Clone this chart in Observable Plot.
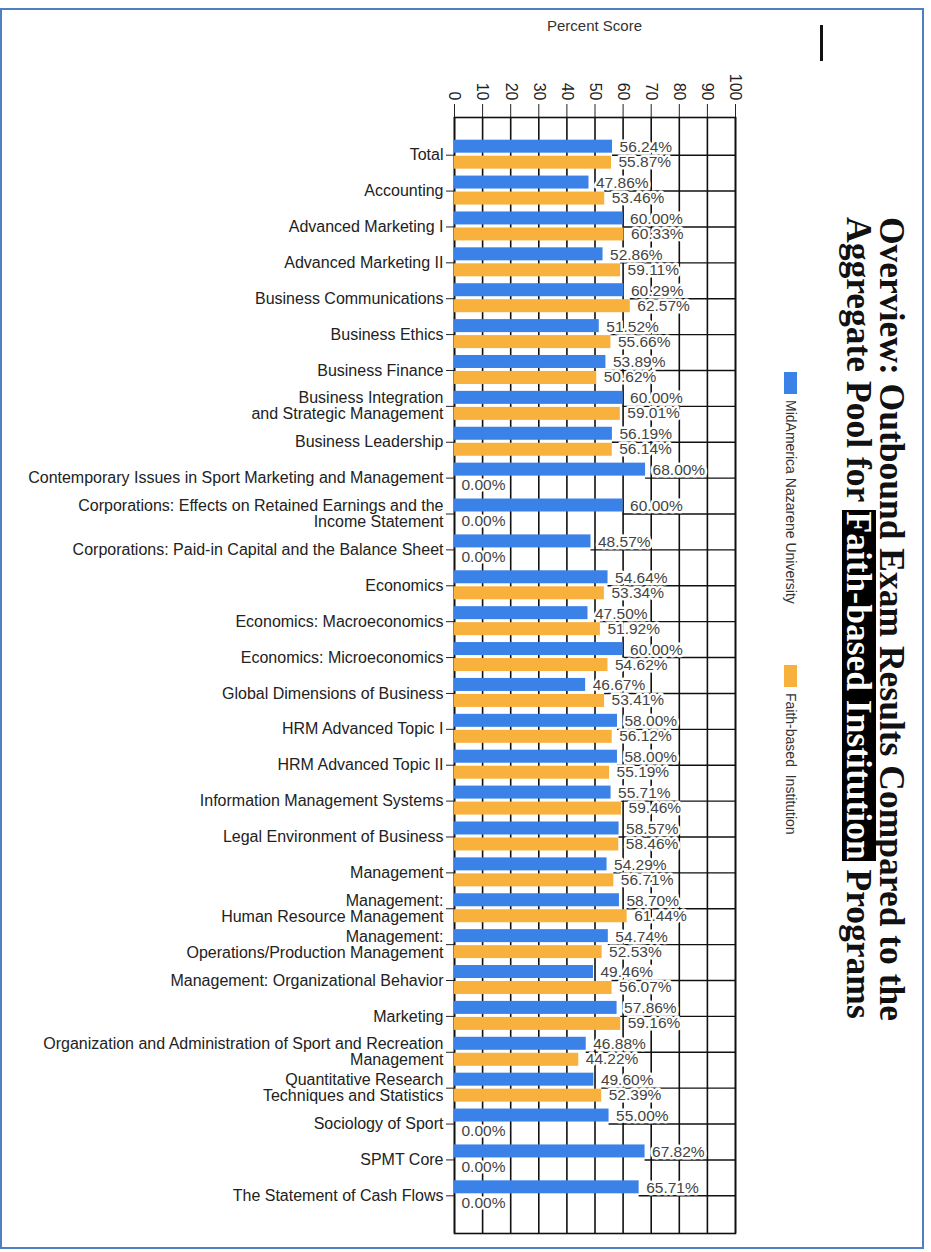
<!DOCTYPE html>
<html>
<head>
<meta charset="utf-8">
<script src="https://cdn.jsdelivr.net/npm/d3@7"></script>
<script src="https://cdn.jsdelivr.net/npm/@observablehq/plot@0.6"></script>
<style>
  html, body { margin: 0; padding: 0; background: #fff; }
  body { width: 931px; height: 1252px; position: relative; overflow: hidden; font-family: "Liberation Sans", Arial, sans-serif; }
  #frame { position: absolute; left: 0; top: 8px; width: 924px; height: 1241px; border: 2px solid #4f7fc2; box-sizing: border-box; }
  #chart { position: absolute; left: 0; top: 0; }
  #xlabel { position: absolute; left: 454px; width: 281px; top: 17px; text-align: center; font-size: 15px; color: #333; }
  #cursor { position: absolute; left: 820px; top: 25px; width: 3px; height: 36px; background: #111; }
  #title { position: absolute; left: 908px; top: 217px; transform-origin: 0 0; transform: rotate(90deg);
           font-family: "Liberation Serif", "Times New Roman", serif; font-weight: bold; font-size: 35.5px; line-height: 32px; white-space: nowrap; color: #111; }
  #title .hl { display: inline-block; background: #000; color: #fff; line-height: 34px; height: 34px; padding: 0 1px; }
  .legend { position: absolute; transform-origin: 0 0; transform: rotate(90deg); white-space: nowrap; font-size: 14px; line-height: 15px; color: #333; display: flex; align-items: center; }
  .legend .sw { display: inline-block; width: 22px; height: 13px; margin-right: 6px; }
</style>
</head>
<body>
<div id="frame"></div>
<div id="chart"></div>
<div id="xlabel"></div>
<div id="cursor"></div>
<div id="title"></div>
<div id="legend"></div>
<script>
const categories = [
  "Total",
  "Accounting",
  "Advanced Marketing I",
  "Advanced Marketing II",
  "Business Communications",
  "Business Ethics",
  "Business Finance",
  "Business Integration\nand Strategic Management",
  "Business Leadership",
  "Contemporary Issues in Sport Marketing and Management",
  "Corporations: Effects on Retained Earnings and the\nIncome Statement",
  "Corporations: Paid-in Capital and the Balance Sheet",
  "Economics",
  "Economics: Macroeconomics",
  "Economics: Microeconomics",
  "Global Dimensions of Business",
  "HRM Advanced Topic I",
  "HRM Advanced Topic II",
  "Information Management Systems",
  "Legal Environment of Business",
  "Management",
  "Management:\nHuman Resource Management",
  "Management:\nOperations/Production Management",
  "Management: Organizational Behavior",
  "Marketing",
  "Organization and Administration of Sport and Recreation\nManagement",
  "Quantitative Research\nTechniques and Statistics",
  "Sociology of Sport",
  "SPMT Core",
  "The Statement of Cash Flows"
];
const mnuValues = [56.24, 47.86, 60.00, 52.86, 60.29, 51.52, 53.89, 60.00, 56.19, 68.00, 60.00, 48.57, 54.64, 47.50, 60.00, 46.67, 58.00, 58.00, 55.71, 58.57, 54.29, 58.70, 54.74, 49.46, 57.86, 46.88, 49.60, 55.00, 67.82, 65.71];
const faithValues = [55.87, 53.46, 60.33, 59.11, 62.57, 55.66, 50.62, 59.01, 56.14, 0.00, 0.00, 0.00, 53.34, 51.92, 54.62, 53.41, 56.12, 55.19, 59.46, 58.46, 56.71, 61.44, 52.53, 56.07, 59.16, 44.22, 52.39, 0.00, 0.00, 0.00];
const xTicks = [0, 10, 20, 30, 40, 50, 60, 70, 80, 90, 100];
const seriesNames = ["MidAmerica Nazarene University", "Faith-based  Institution"];
const seriesColors = ["#3b82e8", "#f8b13c"];
const axisTitle = "Percent Score";
const titleLine1 = "Overview: Outbound Exam Results Compared to the";
const titleLine2Parts = ["Aggregate Pool for ", "Faith-based Institution", " Programs"];

const rows = categories.map((c, i) => ({cat: c, mnu: mnuValues[i], faith: faithValues[i]}));

const W = 760, H = 1240, mt = 117, mb = 7, ml = 454, mr = 25;
const padOuter = 0.55;
const step = (H - mt - mb) / (categories.length + 2 * padOuter);
const half = step / 2;
const fmt = v => v.toFixed(2) + "%";

const chart = Plot.plot({
  width: W, height: H,
  marginTop: mt, marginBottom: mb, marginLeft: ml, marginRight: mr,
  style: {fontFamily: "'Liberation Sans', Arial, sans-serif", fontSize: "16px", color: "#222", background: "transparent", overflow: "visible"},
  x: {domain: [0, 100], axis: "top", ticks: xTicks, tickRotate: 90, tickSize: 14, tickPadding: 3, label: null},
  y: {domain: categories, paddingInner: 0, paddingOuter: padOuter, round: false, tickSize: 8, tickPadding: 3, label: null},
  marks: [
    Plot.ruleX(xTicks, {stroke: "#111", strokeWidth: 1.6}),
    Plot.ruleY(rows, {y: "cat", x1: d => Math.max(d.mnu, d.faith), x2: 100, stroke: "#111", strokeWidth: 1.4}),
    Plot.frame({stroke: "#111", strokeWidth: 1.6}),
    Plot.barX(rows, {y: "cat", x: "mnu", fill: seriesColors[0], insetTop: half - 15, insetBottom: half + 2}),
    Plot.barX(rows, {y: "cat", x: "faith", fill: seriesColors[1], insetTop: half + 1, insetBottom: half - 14}),
    Plot.text(rows, {y: "cat", x: "mnu", text: d => fmt(d.mnu), dx: 7, dy: -8, textAnchor: "start", fontSize: 15.5, fill: "#444", stroke: "white", strokeWidth: 5, paintOrder: "stroke"}),
    Plot.text(rows, {y: "cat", x: "faith", text: d => fmt(d.faith), dx: 7, dy: 7, textAnchor: "start", fontSize: 15.5, fill: "#444", stroke: "white", strokeWidth: 5, paintOrder: "stroke"})
  ]
});
document.getElementById("chart").appendChild(chart);

document.getElementById("xlabel").textContent = axisTitle;

const title = document.getElementById("title");
const l1 = document.createElement("div");
l1.textContent = titleLine1;
const l2 = document.createElement("div");
const a = document.createElement("span"); a.textContent = titleLine2Parts[0];
const b = document.createElement("span"); b.className = "hl"; b.textContent = titleLine2Parts[1];
const c = document.createElement("span"); c.textContent = titleLine2Parts[2];
l2.append(a, b, c);
title.append(l1, l2);

const legendTops = [372, 665];
seriesNames.forEach((name, i) => {
  const d = document.createElement("div");
  d.className = "legend";
  d.style.left = "798px";
  d.style.top = legendTops[i] + "px";
  const sw = document.createElement("span");
  sw.className = "sw";
  sw.style.background = seriesColors[i];
  const t = document.createElement("span");
  t.style.whiteSpace = "pre";
  t.textContent = name;
  d.append(sw, t);
  document.getElementById("legend").appendChild(d);
});
</script>
</body>
</html>
